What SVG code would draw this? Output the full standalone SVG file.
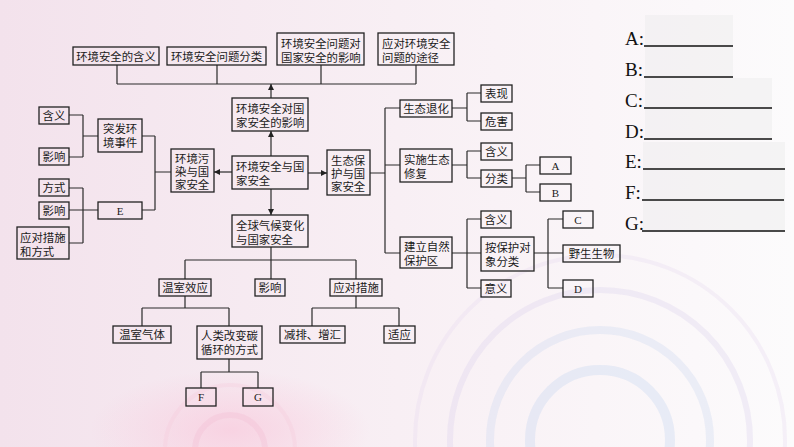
<svg xmlns="http://www.w3.org/2000/svg" width="794" height="447" viewBox="0 0 794 447">
<defs>
<linearGradient id="bg" x1="0" y1="0" x2="1" y2="0">
<stop offset="0" stop-color="#f3e2ec"/>
<stop offset="0.5" stop-color="#f8eff4"/>
<stop offset="1" stop-color="#fcfbfc"/>
</linearGradient>
<radialGradient id="pinkglow" cx="0.5" cy="0.5" r="0.5">
<stop offset="0" stop-color="#f9c9dc" stop-opacity="0.7"/>
<stop offset="1" stop-color="#f9c9dc" stop-opacity="0"/>
</radialGradient>
<marker id="arr" viewBox="0 0 8 8" refX="8" refY="4" markerWidth="6" markerHeight="6" markerUnits="userSpaceOnUse" orient="auto">
<path d="M0,0 L8,4 L0,8 z" fill="#222"/>
</marker>
<style>
.b{fill:none;stroke:#222;stroke-width:1.3}
.t{font-family:"Noto Sans CJK SC","Noto Sans",sans-serif;font-size:11.4px;fill:#1a1a1a}
.c{text-anchor:middle}
.l{font-family:"Liberation Serif",serif;font-size:11px;fill:#1a1a1a;text-anchor:middle}
.k{fill:none;stroke:#2a2a2a;stroke-width:1.2}
.q{font-family:"Liberation Serif",serif;font-size:19px;fill:#111}
.u{stroke:#111;stroke-width:1.3}
</style>
</defs>
<rect width="794" height="447" fill="url(#bg)"/>
<ellipse cx="230" cy="430" rx="140" ry="60" fill="url(#pinkglow)"/>
<g fill="none" stroke-opacity="0.3">
<circle cx="600" cy="440" r="70" stroke="#bcd0ee" stroke-width="10"/>
<circle cx="600" cy="440" r="110" stroke="#c8d4f0" stroke-width="8"/>
<circle cx="600" cy="440" r="150" stroke="#d8cdec" stroke-width="6"/>
<circle cx="600" cy="440" r="185" stroke="#e6d6ef" stroke-width="4"/>
<circle cx="230" cy="450" r="35" stroke="#f2b8cf" stroke-width="6"/>
<circle cx="230" cy="450" r="65" stroke="#f6cadb" stroke-width="4"/>
</g>
<g id="answer-area" fill="#e8e8e8" opacity="0.35">
<rect x="645" y="15" width="88" height="63"/>
<rect x="645" y="78" width="127" height="62"/>
<rect x="643" y="142" width="142" height="90"/>
</g>

<g id="connectors" class="k">
<path d="M117,65 V84 M217,65 V84 M321,65 V84 M416,65 V84 M117,84 H416"/>
<path d="M271,98 V84" marker-end="url(#arr)"/>
<path d="M271,156 V131" marker-end="url(#arr)"/>
<path d="M232,172 H214" marker-end="url(#arr)"/>
<path d="M308,173 H327" marker-end="url(#arr)"/>
<path d="M271,189 V215" marker-end="url(#arr)"/>
<path d="M370,173 H385 M385,108 V253 M385,108 H400 M385,165 H400 M385,253 H400"/>
<path d="M452,108 H467 M467,93 V121 M467,93 H481 M467,121 H481"/>
<path d="M452,165 H467 M467,151 V178 M467,151 H481 M467,178 H481"/>
<path d="M512,178 H526 M526,165 V192 M526,165 H540 M526,192 H540"/>
<path d="M452,253 H467 M467,219 V288 M467,219 H481 M467,253 H481 M467,288 H481"/>
<path d="M534,253 H548 M548,219 V288 M548,219 H563 M548,253 H563 M548,288 H563"/>
<path d="M69,115 H83 M69,157 H83 M83,115 V157 M83,136 H98"/>
<path d="M69,188 H83 M69,243 H83 M83,188 V243 M69,210 H98"/>
<path d="M142,136 H155 M142,210 H155 M155,136 V210 M155,172 H171"/>
<path d="M271,247 V260 M185,260 H356 M185,260 V279 M271,260 V279 M356,260 V279"/>
<path d="M185,296 V308 M142,308 H229 M142,308 V326 M229,308 V326"/>
<path d="M356,296 V308 M312,308 H399 M312,308 V326 M399,308 V326"/>
<path d="M229,359 V372 M201,372 H258 M201,372 V388 M258,372 V388"/>
</g>

<g id="n-hanyi-top"><rect class="b" x="73" y="47" width="86" height="18"/><text class="t c" x="116" y="60.5">环境安全的含义</text></g>
<g id="n-fenlei-top"><rect class="b" x="167" y="47" width="99" height="18"/><text class="t c" x="216.5" y="60.5">环境安全问题分类</text></g>
<g id="n-yingxiang-top"><rect class="b" x="277" y="33" width="87" height="32"/><text class="t" x="281" y="47.5">环境安全问题对<tspan x="281" dy="14">国家安全的影响</tspan></text></g>
<g id="n-tujing-top"><rect class="b" x="378" y="33" width="76" height="32"/><text class="t" x="382" y="47.5">应对环境安全<tspan x="382" dy="14">问题的途径</tspan></text></g>

<g id="n-huanjing-yingxiang"><rect class="b" x="232" y="98" width="76" height="33"/><text class="t" x="236" y="112.5">环境安全对国<tspan x="236" dy="14">家安全的影响</tspan></text></g>
<g id="n-huanjing-guojia"><rect class="b" x="232" y="156" width="76" height="33"/><text class="t" x="236" y="170.5">环境安全与国<tspan x="236" dy="14">家安全</tspan></text></g>
<g id="n-quanqiu"><rect class="b" x="232" y="215" width="76" height="32"/><text class="t" x="236" y="229.5">全球气候变化<tspan x="236" dy="14">与国家安全</tspan></text></g>
<g id="n-wuran"><rect class="b" x="171" y="149" width="43" height="43"/><text class="t" x="175" y="162.5">环境污<tspan x="175" dy="13">染与国</tspan><tspan x="175" dy="13">家安全</tspan></text></g>
<g id="n-shengtai-baohu"><rect class="b" x="327" y="150" width="43" height="45"/><text class="t" x="331" y="165">生态保<tspan x="331" dy="13">护与国</tspan><tspan x="331" dy="13">家安全</tspan></text></g>

<g id="n-tufa"><rect class="b" x="98" y="119" width="44" height="33"/><text class="t" x="103" y="133">突发环<tspan x="103" dy="14">境事件</tspan></text></g>
<g id="n-hanyi-l"><rect class="b" x="39" y="107" width="30" height="17"/><text class="t c" x="54" y="120">含义</text></g>
<g id="n-yingxiang-l1"><rect class="b" x="39" y="148" width="30" height="17"/><text class="t c" x="54" y="161">影响</text></g>
<g id="n-E"><rect class="b" x="98" y="202" width="44" height="17"/><text class="l" x="120" y="214.5">E</text></g>
<g id="n-fangshi"><rect class="b" x="39" y="179" width="30" height="17"/><text class="t c" x="54" y="192">方式</text></g>
<g id="n-yingxiang-l2"><rect class="b" x="39" y="202" width="30" height="17"/><text class="t c" x="54" y="215">影响</text></g>
<g id="n-yingdui-l"><rect class="b" x="17" y="227" width="52" height="32"/><text class="t" x="20" y="241.5">应对措施<tspan x="20" dy="14">和方式</tspan></text></g>

<g id="n-tuihua"><rect class="b" x="400" y="100" width="52" height="17"/><text class="t c" x="426" y="113">生态退化</text></g>
<g id="n-biaoxian"><rect class="b" x="481" y="85" width="31" height="17"/><text class="t c" x="496.5" y="98">表现</text></g>
<g id="n-weihai"><rect class="b" x="481" y="113" width="31" height="17"/><text class="t c" x="496.5" y="126">危害</text></g>
<g id="n-xiufu"><rect class="b" x="400" y="149" width="52" height="33"/><text class="t" x="404" y="163.5">实施生态<tspan x="404" dy="14">修复</tspan></text></g>
<g id="n-hanyi-xf"><rect class="b" x="481" y="143" width="31" height="17"/><text class="t c" x="496.5" y="156">含义</text></g>
<g id="n-fenlei-xf"><rect class="b" x="481" y="170" width="31" height="17"/><text class="t c" x="496.5" y="183">分类</text></g>
<g id="n-A"><rect class="b" x="540" y="157" width="31" height="17"/><text class="l" x="555.5" y="169.5">A</text></g>
<g id="n-B"><rect class="b" x="540" y="184" width="31" height="17"/><text class="l" x="555.5" y="196.5">B</text></g>
<g id="n-baohuqu"><rect class="b" x="400" y="237" width="52" height="31"/><text class="t" x="404" y="251">建立自然<tspan x="404" dy="14">保护区</tspan></text></g>
<g id="n-hanyi-bh"><rect class="b" x="481" y="211" width="30" height="17"/><text class="t c" x="496" y="224">含义</text></g>
<g id="n-duixiang"><rect class="b" x="481" y="237" width="53" height="34"/><text class="t" x="485" y="251.5">按保护对<tspan x="485" dy="14">象分类</tspan></text></g>
<g id="n-yiyi"><rect class="b" x="481" y="280" width="30" height="17"/><text class="t c" x="496" y="293">意义</text></g>
<g id="n-C"><rect class="b" x="563" y="211" width="30" height="17"/><text class="l" x="578" y="223.5">C</text></g>
<g id="n-yesheng"><rect class="b" x="563" y="245" width="57" height="17"/><text class="t c" x="591.5" y="258">野生生物</text></g>
<g id="n-D"><rect class="b" x="563" y="280" width="30" height="17"/><text class="l" x="578" y="292.5">D</text></g>

<g id="n-wenshi"><rect class="b" x="159" y="279" width="52" height="17"/><text class="t c" x="185" y="292">温室效应</text></g>
<g id="n-yingxiang-b"><rect class="b" x="255" y="279" width="30" height="17"/><text class="t c" x="270" y="292">影响</text></g>
<g id="n-cuoshi"><rect class="b" x="330" y="279" width="52" height="17"/><text class="t c" x="356" y="292">应对措施</text></g>
<g id="n-qiti"><rect class="b" x="113" y="326" width="58" height="17"/><text class="t c" x="142" y="339">温室气体</text></g>
<g id="n-renlei"><rect class="b" x="197" y="326" width="65" height="33"/><text class="t" x="201" y="340">人类改变碳<tspan x="201" dy="14">循环的方式</tspan></text></g>
<g id="n-jianpai"><rect class="b" x="280" y="326" width="65" height="17"/><text class="t c" x="312.5" y="339">减排、增汇</text></g>
<g id="n-shiying"><rect class="b" x="384" y="326" width="31" height="17"/><text class="t c" x="399.5" y="339">适应</text></g>
<g id="n-F"><rect class="b" x="186" y="388" width="30" height="18"/><text class="l" x="201" y="401">F</text></g>
<g id="n-G"><rect class="b" x="243" y="388" width="30" height="18"/><text class="l" x="258" y="401">G</text></g>

<g id="answers">
<text class="q" x="625" y="45">A:</text><line class="u" x1="644" y1="46" x2="733" y2="46"/>
<text class="q" x="625" y="76">B:</text><line class="u" x1="644" y1="77" x2="733" y2="77"/>
<text class="q" x="625" y="107">C:</text><line class="u" x1="644" y1="108" x2="772" y2="108"/>
<text class="q" x="625" y="138">D:</text><line class="u" x1="644" y1="139" x2="772" y2="139"/>
<text class="q" x="625" y="168">E:</text><line class="u" x1="643" y1="169" x2="785" y2="169"/>
<text class="q" x="625" y="199">F:</text><line class="u" x1="642" y1="200" x2="784" y2="200"/>
<text class="q" x="625" y="230">G:</text><line class="u" x1="642" y1="231" x2="785" y2="231"/>
</g>
</svg>
